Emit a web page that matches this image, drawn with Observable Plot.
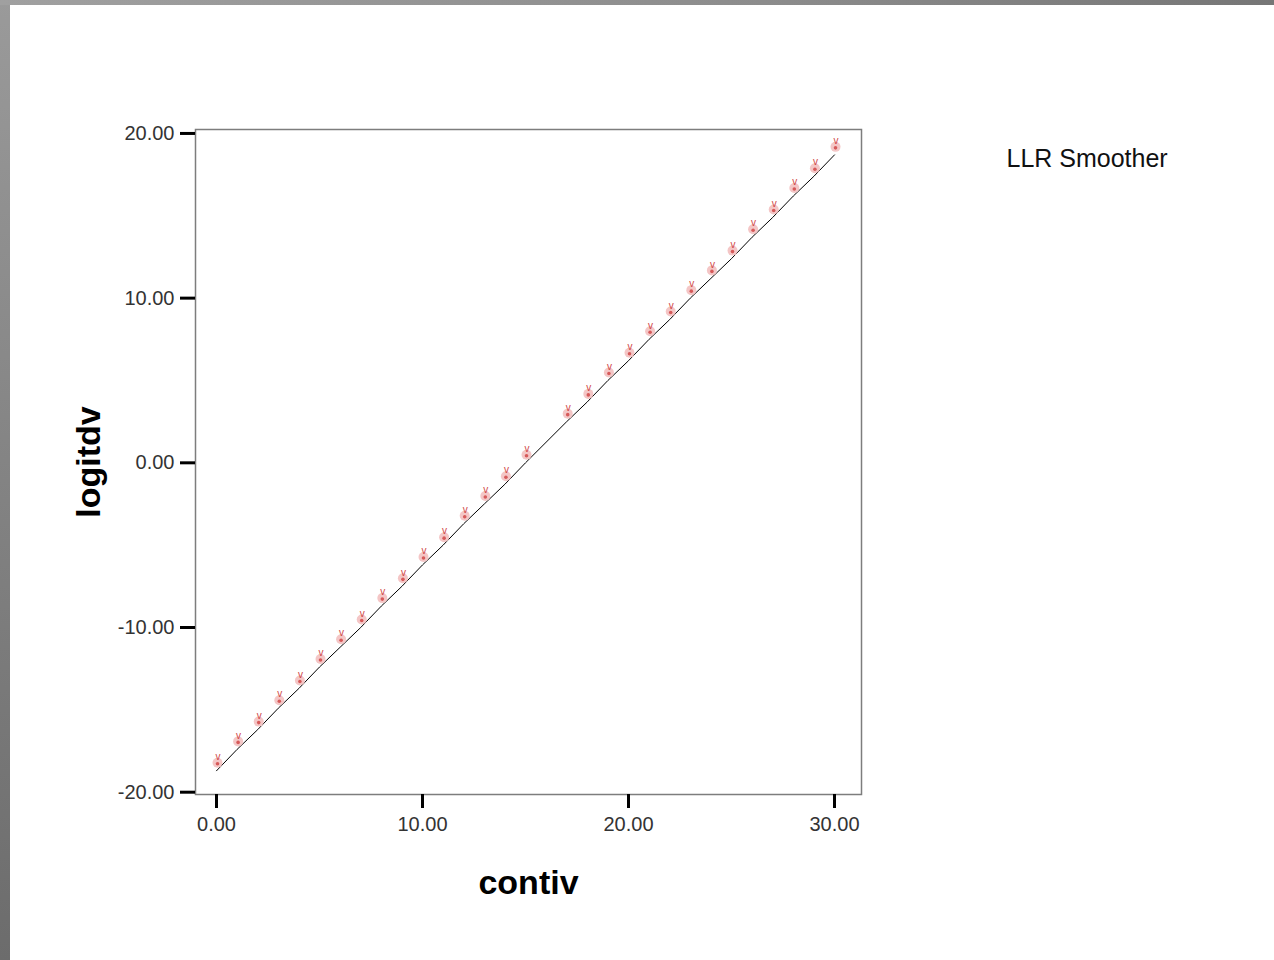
<!DOCTYPE html>
<html>
<head>
<meta charset="utf-8">
<script src="https://cdn.jsdelivr.net/npm/d3@7"></script>
<script src="https://cdn.jsdelivr.net/npm/@observablehq/plot@0.6"></script>
<style>
  html, body { margin: 0; padding: 0; background: #fff; width: 1274px; height: 960px; overflow: hidden; }
  #left { position: absolute; left: 0; top: 0; width: 10px; height: 960px; background: linear-gradient(to bottom, #9a9a9a, #6c6c6c); }
  #top { position: absolute; left: 0; top: 0; width: 1274px; height: 5px; background: linear-gradient(to right, #a0a0a0, #8c8c8c 60%, #767676); }
  #chart { position: absolute; left: 0; top: 0; }
</style>
</head>
<body>
<div id="left"></div>
<div id="top"></div>
<div id="chart"></div>
<script>
// contiv values (x = 16 has no observation)
const contiv = [0,1,2,3,4,5,6,7,8,9,10,11,12,13,14,15,17,18,19,20,21,22,23,24,25,26,27,28,29,30];
// logitdv values
const logitdv = [-18.7,-17.4,-16.2,-14.9,-13.7,-12.4,-11.2,-10.0,-8.7,-7.5,-6.2,-5.0,-3.7,-2.5,-1.3,0.0,2.5,3.7,5.0,6.2,7.5,8.7,10.0,11.2,12.4,13.7,14.9,16.2,17.4,18.7];
const xTicks = [0,10,20,30];
const yTicks = [-20,-10,0,10,20];
const xLabel = "contiv";
const yLabel = "logitdv";
const legendText = "LLR Smoother";

const data = contiv.map((c, i) => ({contiv: c, logitdv: logitdv[i]}));

const chart = Plot.plot({
  width: 1274,
  height: 960,
  marginLeft: 195,
  marginRight: 413,
  marginTop: 129,
  marginBottom: 166,
  style: {fontFamily: "'Liberation Sans', Arial, sans-serif", fontSize: "20px", background: "transparent", color: "#000", overflow: "visible"},
  x: {domain: [-1.02, 31.31]},
  y: {domain: [-20.14, 20.24]},
  marks: [
    Plot.frame({stroke: "#7d7d7d", strokeWidth: 1.5}),
    Plot.axisY({ticks: yTicks, tickFormat: d => d.toFixed(2), tickSize: 15, tickPadding: 6, strokeWidth: 3, stroke: "#000", fill: "#333", fontSize: 20, label: null}),
    Plot.axisX({ticks: xTicks, tickFormat: d => d.toFixed(2), tickSize: 14, tickPadding: 8, strokeWidth: 3, stroke: "#000", fill: "#333", fontSize: 20, label: null}),
    Plot.line(data, {x: "contiv", y: "logitdv", stroke: "#000", strokeWidth: 1}),
    Plot.dot(data, {x: "contiv", y: "logitdv", r: 5, fill: "#f4c6c6", stroke: "none", dx: 1, dy: -8}),
    Plot.dot(data, {x: "contiv", y: "logitdv", r: 1.8, fill: "#d65a5a", stroke: "none", dx: 1, dy: -7}),
    Plot.text(data, {x: "contiv", y: "logitdv", text: () => "v", fontSize: 10, fill: "#d04848", dx: 1.5, dy: -14}),
    Plot.text([xLabel], {frameAnchor: "bottom", text: d => d, fontSize: 34, fontWeight: "bold", fill: "#000", lineAnchor: "bottom", dy: 99}),
    Plot.text([yLabel], {frameAnchor: "left", text: d => d, fontSize: 34, fontWeight: "bold", fill: "#000", rotate: -90, textAnchor: "middle", lineAnchor: "bottom", dx: -96}),
    Plot.text([legendText], {frameAnchor: "top-right", text: d => d, fontSize: 25, fill: "#111", textAnchor: "start", lineAnchor: "bottom", dx: 145, dy: 37})
  ]
});
document.getElementById("chart").appendChild(chart);
</script>
</body>
</html>
